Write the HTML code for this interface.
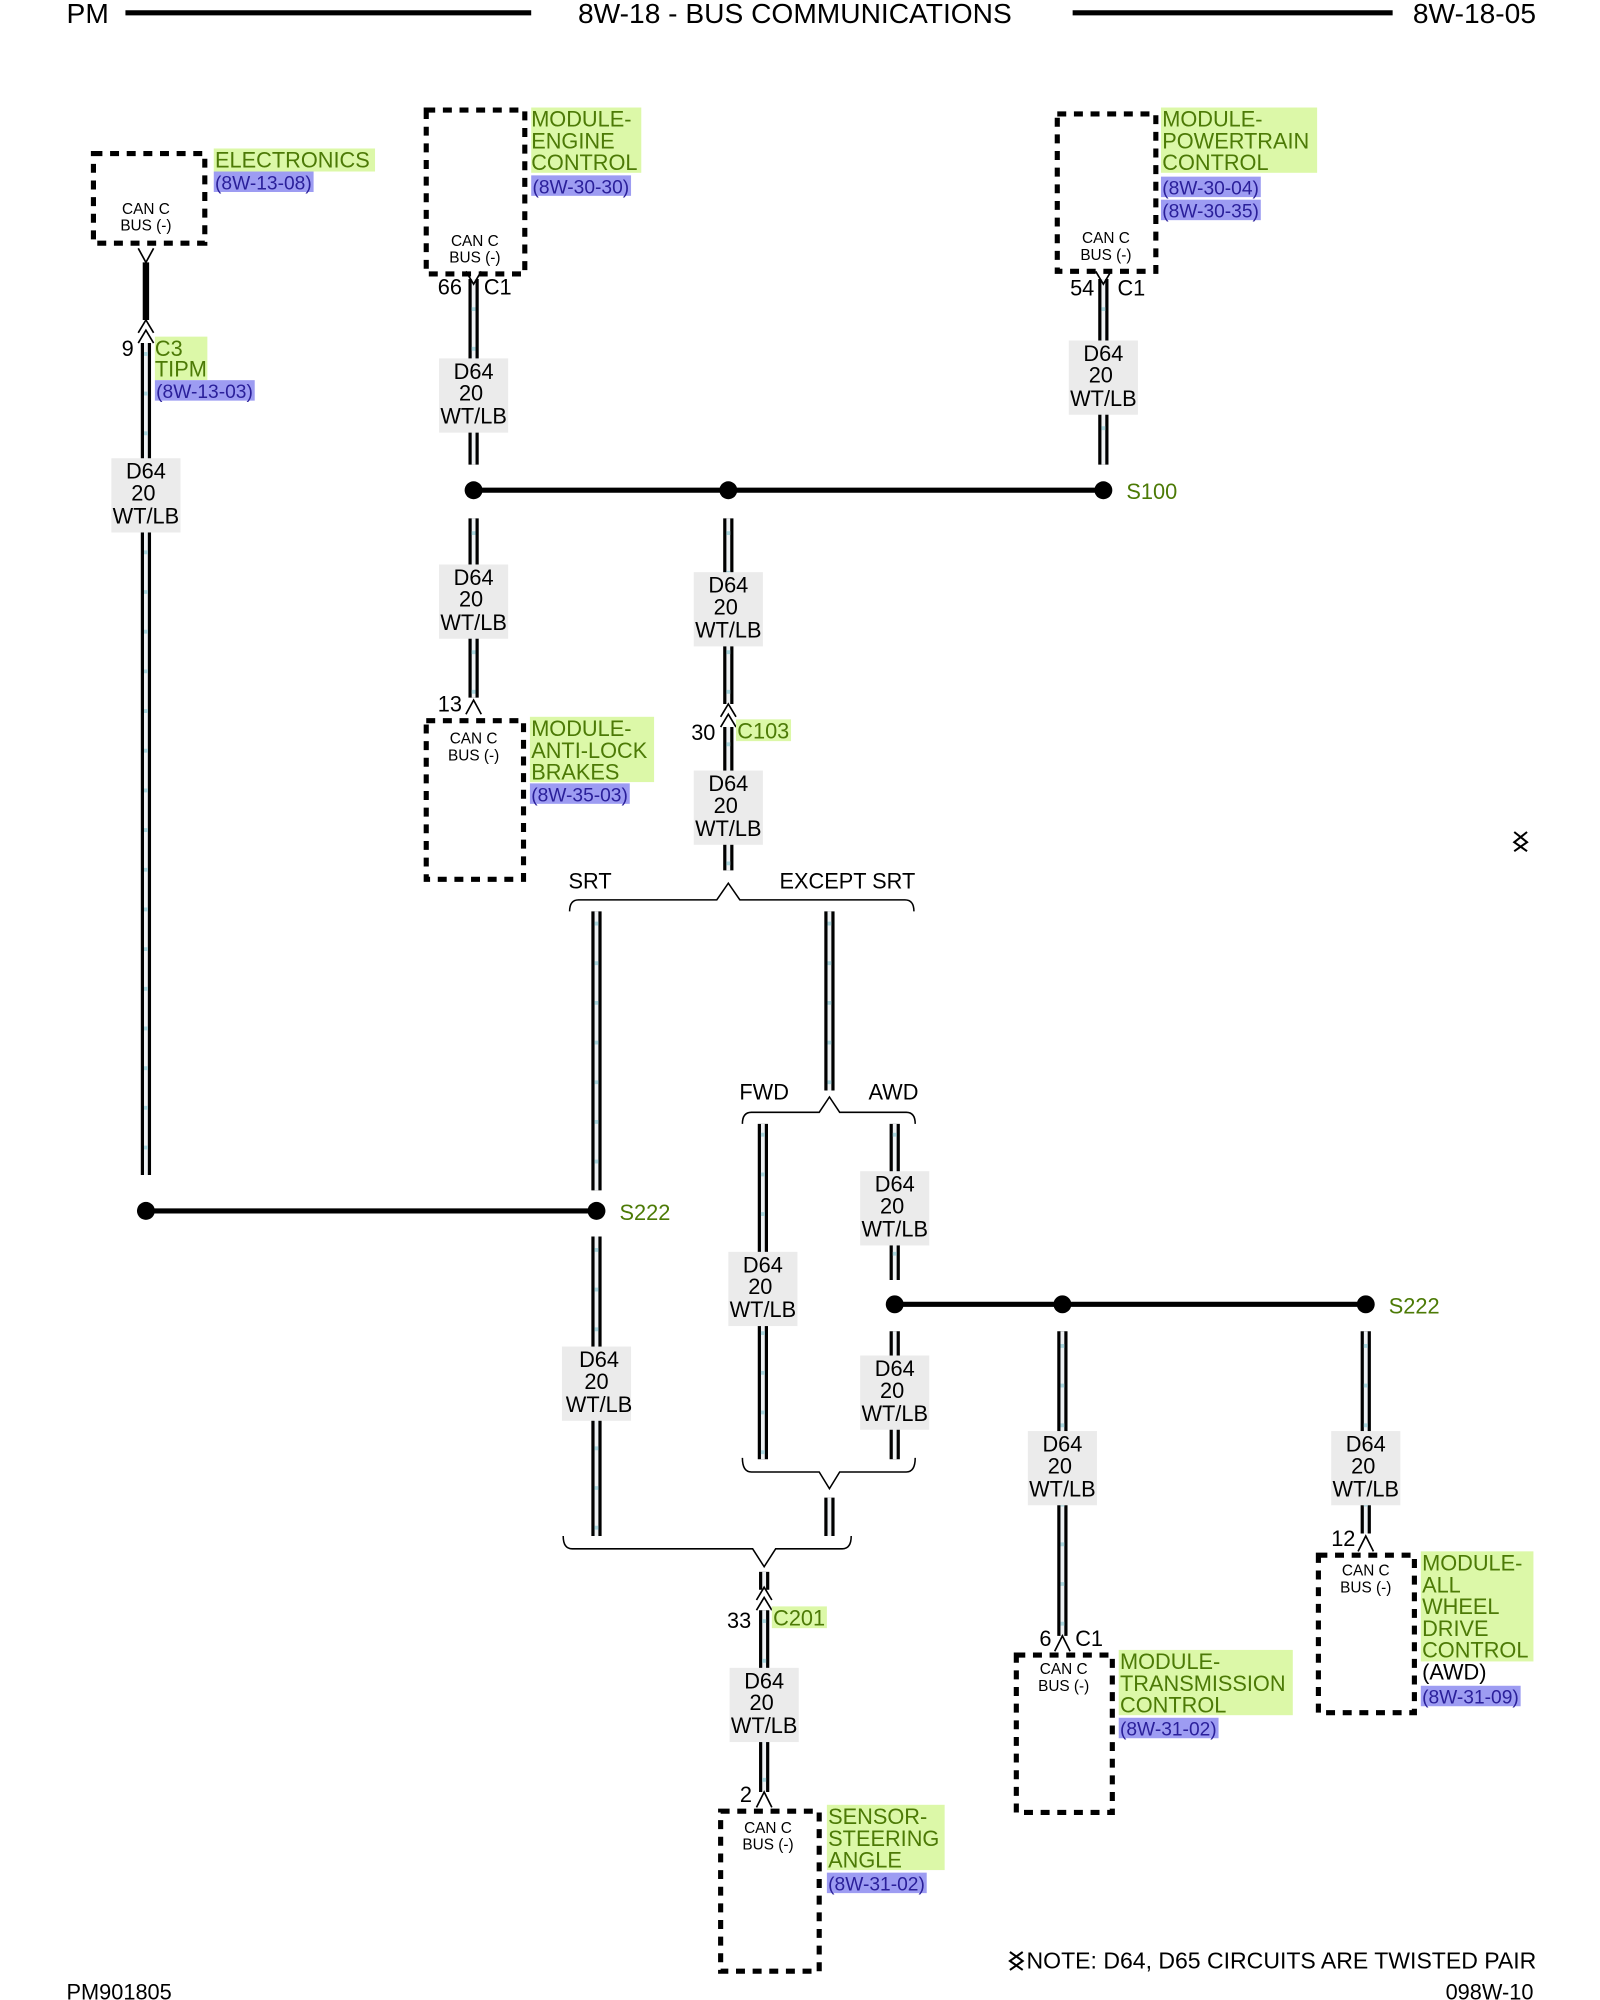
<!DOCTYPE html>
<html><head><meta charset="utf-8"><style>
html,body{margin:0;padding:0;background:#fff}
svg{display:block}
text{font-family:"Liberation Sans Narrow","Liberation Sans",sans-serif;font-size:17px}
.s{font-size:12px;font-family:"Liberation Sans",sans-serif}
.g{fill:#4c7a06}.p{fill:#2a1f9a}
.gb{fill:#dcf8a8}.pb{fill:#9d9cf2}
.lb{fill:#ebebeb}
.wo{stroke:#000;stroke-width:8}
.wi{stroke:#eef1f3;stroke-width:3}
.wd{stroke:#a9d4dc;stroke-width:3;stroke-dasharray:3 28}
.bx{fill:none;stroke:#000;stroke-width:4;stroke-dasharray:7 6}
.ln{stroke:#000;stroke-width:4;fill:none}
.br{stroke:#000;stroke-width:1.2;fill:none}
</style></head><body>
<svg width="1600" height="2000" viewBox="0 0 1250 1562.5" xmlns="http://www.w3.org/2000/svg">
<text x="52" y="18" style="font-size:22px">PM</text>
<line x1="98" y1="10" x2="415" y2="10" stroke="#000" stroke-width="4"/>
<text x="621" y="18" text-anchor="middle" style="font-size:22px">8W-18 - BUS COMMUNICATIONS</text>
<line x1="838" y1="10" x2="1088" y2="10" stroke="#000" stroke-width="4"/>
<text x="1200" y="18" text-anchor="end" style="font-size:22px">8W-18-05</text>

<g>
<line class="wo" x1="114" y1="268" x2="114" y2="918"/><line class="wi" x1="114" y1="268" x2="114" y2="918"/><line class="wd" x1="114" y1="275" x2="114" y2="918"/>
<line class="wo" x1="370" y1="218" x2="370" y2="363"/><line class="wi" x1="370" y1="218" x2="370" y2="363"/><line class="wd" x1="370" y1="240" x2="370" y2="363"/>
<line class="wo" x1="862" y1="218" x2="862" y2="363"/><line class="wi" x1="862" y1="218" x2="862" y2="363"/><line class="wd" x1="862" y1="240" x2="862" y2="363"/>
<line class="wo" x1="370" y1="405" x2="370" y2="545"/><line class="wi" x1="370" y1="405" x2="370" y2="545"/><line class="wd" x1="370" y1="415" x2="370" y2="545"/>
<line class="wo" x1="569" y1="405" x2="569" y2="550"/><line class="wi" x1="569" y1="405" x2="569" y2="550"/><line class="wd" x1="569" y1="415" x2="569" y2="550"/>
<line class="wo" x1="569" y1="568" x2="569" y2="680"/><line class="wi" x1="569" y1="568" x2="569" y2="680"/><line class="wd" x1="569" y1="580" x2="569" y2="680"/>
<line class="wo" x1="466" y1="712" x2="466" y2="930"/><line class="wi" x1="466" y1="712" x2="466" y2="930"/><line class="wd" x1="466" y1="720" x2="466" y2="930"/>
<line class="wo" x1="466" y1="966" x2="466" y2="1200"/><line class="wi" x1="466" y1="966" x2="466" y2="1200"/><line class="wd" x1="466" y1="975" x2="466" y2="1200"/>
<line class="wo" x1="648" y1="712" x2="648" y2="852"/><line class="wi" x1="648" y1="712" x2="648" y2="852"/><line class="wd" x1="648" y1="720" x2="648" y2="852"/>
<line class="wo" x1="596" y1="878" x2="596" y2="1140"/><line class="wi" x1="596" y1="878" x2="596" y2="1140"/><line class="wd" x1="596" y1="885" x2="596" y2="1140"/>
<line class="wo" x1="699" y1="878" x2="699" y2="1000"/><line class="wi" x1="699" y1="878" x2="699" y2="1000"/><line class="wd" x1="699" y1="885" x2="699" y2="1000"/>
<line class="wo" x1="699" y1="1040" x2="699" y2="1140"/><line class="wi" x1="699" y1="1040" x2="699" y2="1140"/>
<line class="wo" x1="648" y1="1170" x2="648" y2="1200"/><line class="wi" x1="648" y1="1170" x2="648" y2="1200"/>
<line class="wo" x1="597" y1="1228" x2="597" y2="1242"/><line class="wi" x1="597" y1="1228" x2="597" y2="1242"/>
<line class="wo" x1="597" y1="1258" x2="597" y2="1400"/><line class="wi" x1="597" y1="1258" x2="597" y2="1400"/><line class="wd" x1="597" y1="1265" x2="597" y2="1400"/>
<line class="wo" x1="830" y1="1040" x2="830" y2="1278"/><line class="wi" x1="830" y1="1040" x2="830" y2="1278"/><line class="wd" x1="830" y1="1050" x2="830" y2="1278"/>
<line class="wo" x1="1067" y1="1040" x2="1067" y2="1198"/><line class="wi" x1="1067" y1="1040" x2="1067" y2="1198"/><line class="wd" x1="1067" y1="1050" x2="1067" y2="1198"/>
<line x1="114" y1="205" x2="114" y2="250" stroke="#000" stroke-width="5"/>
</g>

<line class="ln" x1="370" y1="383" x2="862" y2="383"/>
<circle cx="370" cy="383" r="7"/><circle cx="569" cy="383" r="7"/><circle cx="862" cy="383" r="7"/>
<text x="880" y="390" class="g">S100</text>
<line class="ln" x1="114" y1="946" x2="466" y2="946"/>
<circle cx="114" cy="946" r="7"/><circle cx="466" cy="946" r="7"/>
<text x="484" y="953" class="g">S222</text>
<line class="ln" x1="699" y1="1019" x2="1067" y2="1019"/>
<circle cx="699" cy="1019" r="7"/><circle cx="830" cy="1019" r="7"/><circle cx="1067" cy="1019" r="7"/>
<text x="1085" y="1026" class="g">S222</text>

<g text-anchor="middle">
<rect class="lb" x="87" y="358" width="54" height="58"/><text x="114" y="374">D64</text><text x="112" y="391">20</text><text x="114" y="409">WT/LB</text>
<rect class="lb" x="343" y="280" width="54" height="58"/><text x="370" y="296">D64</text><text x="368" y="313">20</text><text x="370" y="331">WT/LB</text>
<rect class="lb" x="835" y="266" width="54" height="58"/><text x="862" y="282">D64</text><text x="860" y="299">20</text><text x="862" y="317">WT/LB</text>
<rect class="lb" x="343" y="441" width="54" height="58"/><text x="370" y="457">D64</text><text x="368" y="474">20</text><text x="370" y="492">WT/LB</text>
<rect class="lb" x="542" y="447" width="54" height="58"/><text x="569" y="463">D64</text><text x="567" y="480">20</text><text x="569" y="498">WT/LB</text>
<rect class="lb" x="542" y="602" width="54" height="58"/><text x="569" y="618">D64</text><text x="567" y="635">20</text><text x="569" y="653">WT/LB</text>
<rect class="lb" x="439" y="1052" width="54" height="58"/><text x="468" y="1068">D64</text><text x="466" y="1085">20</text><text x="468" y="1103">WT/LB</text>
<rect class="lb" x="569" y="978" width="54" height="58"/><text x="596" y="994">D64</text><text x="594" y="1011">20</text><text x="596" y="1029">WT/LB</text>
<rect class="lb" x="672" y="915" width="54" height="58"/><text x="699" y="931">D64</text><text x="697" y="948">20</text><text x="699" y="966">WT/LB</text>
<rect class="lb" x="672" y="1059" width="54" height="58"/><text x="699" y="1075">D64</text><text x="697" y="1092">20</text><text x="699" y="1110">WT/LB</text>
<rect class="lb" x="570" y="1303" width="54" height="58"/><text x="597" y="1319">D64</text><text x="595" y="1336">20</text><text x="597" y="1354">WT/LB</text>
<rect class="lb" x="803" y="1118" width="54" height="58"/><text x="830" y="1134">D64</text><text x="828" y="1151">20</text><text x="830" y="1169">WT/LB</text>
<rect class="lb" x="1040" y="1118" width="54" height="58"/><text x="1067" y="1134">D64</text><text x="1065" y="1151">20</text><text x="1067" y="1169">WT/LB</text>
</g>

<path class="br" d="M445 712 Q445 703 452 703 L560 703 L569 690 L578 703 L707 703 Q714 703 714 712"/>
<text x="461" y="694" text-anchor="middle">SRT</text>
<text x="662" y="694" text-anchor="middle">EXCEPT SRT</text>
<path class="br" d="M580 878 Q580 869 587 869 L640 869 L648 857 L656 869 L708 869 Q715 869 715 878"/>
<text x="597" y="859" text-anchor="middle">FWD</text>
<text x="698" y="859" text-anchor="middle">AWD</text>
<path class="br" d="M580 1139 Q580 1150 587 1150 L640 1150 L648 1163 L656 1150 L708 1150 Q715 1150 715 1139"/>
<path class="br" d="M440 1200 Q440 1210 447 1210 L588 1210 L597 1224 L606 1210 L658 1210 Q665 1210 665 1200"/>

<g class="br" style="stroke-width:1.3">
<path d="M108 194 L114 205 L120 194"/>
<path d="M108 260 L114 250 L120 260 M108 268 L114 258 L120 268"/>
<path d="M364 212 L370 222 L376 212"/>
<path d="M856 212 L862 222 L868 212"/>
<path d="M364 558 L370 547 L376 558"/>
<path d="M563 560 L569 550 L575 560 M563 568 L569 558 L575 568"/>
<path d="M591 1250 L597 1240 L603 1250 M591 1258 L597 1248 L603 1258"/>
<path d="M591 1412 L597 1400 L603 1412"/>
<path d="M824 1290 L830 1278 L836 1290"/>
<path d="M1061 1212 L1067 1200 L1073 1212"/>
</g>
<text x="95" y="278">9</text>
<text x="342" y="230">66</text><text x="378" y="230">C1</text>
<text x="836" y="231">54</text><text x="873" y="231">C1</text>
<text x="342" y="556">13</text>
<text x="540" y="578">30</text>
<text x="568" y="1272">33</text>
<text x="578" y="1408">2</text>
<text x="812" y="1286">6</text><text x="840" y="1286">C1</text>
<text x="1040" y="1208">12</text>
<rect class="gb" x="575" y="562" width="43" height="17"/><text x="576" y="577" class="g">C103</text>
<rect class="gb" x="603" y="1255" width="43" height="17"/><text x="604" y="1270" class="g">C201</text>

<rect class="bx" x="73" y="120" width="87" height="70"/>
<text class="s" x="114" y="167" text-anchor="middle">CAN C</text><text class="s" x="114" y="180" text-anchor="middle">BUS (-)</text>
<rect class="gb" x="167" y="116" width="126" height="18"/><text x="168" y="131" class="g">ELECTRONICS</text>
<rect class="pb" x="167" y="134" width="78" height="16"/><text x="168" y="148" class="p" style="font-size:15px">(8W-13-08)</text>
<rect class="gb" x="121" y="263" width="41" height="34"/><text x="121" y="278" class="g">C3</text><text x="121" y="294" class="g">TIPM</text>
<rect class="pb" x="121" y="297" width="78" height="16"/><text x="122" y="311" class="p" style="font-size:15px">(8W-13-03)</text>

<rect class="bx" x="333" y="86" width="77" height="128"/>
<text class="s" x="371" y="192" text-anchor="middle">CAN C</text><text class="s" x="371" y="205" text-anchor="middle">BUS (-)</text>
<rect class="gb" x="415" y="84" width="86" height="51"/><text x="415" y="99" class="g">MODULE-</text><text x="415" y="116" class="g">ENGINE</text><text x="415" y="133" class="g">CONTROL</text>
<rect class="pb" x="415" y="137" width="78" height="16"/><text x="416" y="151" class="p" style="font-size:15px">(8W-30-30)</text>

<rect class="bx" x="826" y="89" width="77" height="123"/>
<text class="s" x="864" y="190" text-anchor="middle">CAN C</text><text class="s" x="864" y="203" text-anchor="middle">BUS (-)</text>
<rect class="gb" x="907" y="84" width="122" height="51"/><text x="908" y="99" class="g">MODULE-</text><text x="908" y="116" class="g">POWERTRAIN</text><text x="908" y="133" class="g">CONTROL</text>
<rect class="pb" x="907" y="138" width="78" height="16"/><text x="908" y="152" class="p" style="font-size:15px">(8W-30-04)</text>
<rect class="pb" x="907" y="156" width="78" height="16"/><text x="908" y="170" class="p" style="font-size:15px">(8W-30-35)</text>

<rect class="bx" x="333" y="563" width="76" height="124"/>
<text class="s" x="370" y="581" text-anchor="middle">CAN C</text><text class="s" x="370" y="594" text-anchor="middle">BUS (-)</text>
<rect class="gb" x="414" y="560" width="97" height="51"/><text x="415" y="575" class="g">MODULE-</text><text x="415" y="592" class="g">ANTI-LOCK</text><text x="415" y="609" class="g">BRAKES</text>
<rect class="pb" x="414" y="612" width="78" height="16"/><text x="415" y="626" class="p" style="font-size:15px">(8W-35-03)</text>

<rect class="bx" x="563" y="1415" width="77" height="125"/>
<text class="s" x="600" y="1432" text-anchor="middle">CAN C</text><text class="s" x="600" y="1445" text-anchor="middle">BUS (-)</text>
<rect class="gb" x="646" y="1410" width="92" height="51"/><text x="647" y="1425" class="g">SENSOR-</text><text x="647" y="1442" class="g">STEERING</text><text x="647" y="1459" class="g">ANGLE</text>
<rect class="pb" x="646" y="1463" width="78" height="16"/><text x="647" y="1477" class="p" style="font-size:15px">(8W-31-02)</text>

<rect class="bx" x="794" y="1293" width="75" height="123"/>
<text class="s" x="831" y="1308" text-anchor="middle">CAN C</text><text class="s" x="831" y="1321" text-anchor="middle">BUS (-)</text>
<rect class="gb" x="874" y="1289" width="136" height="51"/><text x="875" y="1304" class="g">MODULE-</text><text x="875" y="1321" class="g">TRANSMISSION</text><text x="875" y="1338" class="g">CONTROL</text>
<rect class="pb" x="874" y="1342" width="78" height="16"/><text x="875" y="1356" class="p" style="font-size:15px">(8W-31-02)</text>

<rect class="bx" x="1030" y="1215" width="75" height="123"/>
<text class="s" x="1067" y="1231" text-anchor="middle">CAN C</text><text class="s" x="1067" y="1244" text-anchor="middle">BUS (-)</text>
<rect class="gb" x="1110" y="1212" width="88" height="86"/><text x="1111" y="1227" class="g">MODULE-</text><text x="1111" y="1244" class="g">ALL</text><text x="1111" y="1261" class="g">WHEEL</text><text x="1111" y="1278" class="g">DRIVE</text><text x="1111" y="1295" class="g">CONTROL</text>
<text x="1111" y="1312">(AWD)</text>
<rect class="pb" x="1110" y="1317" width="78" height="16"/><text x="1111" y="1331" class="p" style="font-size:15px">(8W-31-09)</text>

<path d="M1183 650 L1193 658 L1183 665 M1193 650 L1183 658 L1193 665" stroke="#000" stroke-width="1.6" fill="none"/>
<path d="M789 1525 L799 1532 L789 1539 M799 1525 L789 1532 L799 1539" stroke="#000" stroke-width="1.6" fill="none"/>
<text x="802" y="1538" style="font-size:18px">NOTE: D64, D65  CIRCUITS ARE TWISTED PAIR</text>
<text x="52" y="1562" style="font-size:17px">PM901805</text>
<text x="1198" y="1562" text-anchor="end" style="font-size:17px">098W-10</text>
</svg>
</body></html>
